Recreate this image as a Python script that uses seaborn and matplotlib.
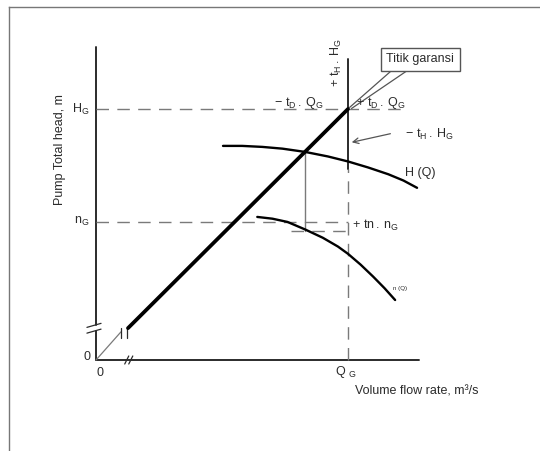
import numpy as np
import matplotlib
matplotlib.use("Agg")
import matplotlib.pyplot as plt
import seaborn as sns

# diagram values, in % of the guarantee point (Q_G = 100, H_G = 100)
Q_G, H_G, N_G = 100.0, 100.0, 55.0
Q_MAX, H_MAX = 128.2, 124.7

# system (pipe) line, drawn straight through the guarantee point
sys_q = [12.7, 100.0]
sys_h = [12.7, 100.0]

# pump head curve H(Q)
hq_q = [50.4, 58, 66, 74, 83, 92, 100, 108, 116, 122, 127.4]
hq_h = [85.3, 85.3, 84.9, 84.2, 82.9, 81.1, 79.1, 76.7, 74.0, 71.5, 68.6]

# speed curve n(Q)
nq_q = [64, 70, 76, 83, 90, 96, 100, 105, 110, 114.5, 118.7]
nq_h = [57.0, 56.3, 55.0, 52.0, 48.7, 45.2, 42.3, 38.0, 33.2, 28.6, 23.9]

# operating point and tolerances
q_op, h_op, n_op = 82.9, 82.9, 51.4
tol_h_top, tol_h_bot = 119.9, 76.1
dash_h_end = 122.6

sns.set_style("white")
plt.rcParams["font.family"] = ["Liberation Sans", "DejaVu Sans"]
plt.rcParams["mathtext.fontset"] = "custom"
plt.rcParams["mathtext.rm"] = "Liberation Sans"

# pixel mapping of the sketch (origin at px 96,360)
sx, sy = 2.52, 2.51
W, H = 540, 451
fig = plt.figure(figsize=(W / 100, H / 100), dpi=100)
ax = fig.add_axes([9 / W, 0, 531 / W, 444 / H])
ax.set_xlim((9 - 96) / sx, (540 - 96) / sx)
ax.set_ylim((360 - 451) / sy, (360 - 7) / sy)
ax.set_xticks([]); ax.set_yticks([])
for s in ["right", "bottom"]:
    ax.spines[s].set_visible(False)
for s in ["left", "top"]:
    ax.spines[s].set_color("#777777")
    ax.spines[s].set_linewidth(1.0)

ink = "#2b2b2b"
grey = "#7a7a7a"
dash = dict(color=grey, lw=1.0, dashes=(9, 6))

# axes with breaks
ax.plot([0, 0], [0, 11.4], color=ink, lw=1.4)
ax.plot([0, 0], [13.8, H_MAX], color=ink, lw=1.4)
ax.plot([0, Q_MAX], [0, 0], color=ink, lw=1.4)
ax.plot([-3.6, 2.0], [13.0, 14.6], color=ink, lw=0.9)
ax.plot([-3.6, 2.0], [10.7, 12.3], color=ink, lw=0.9)
ax.plot([11.4, 13.0], [-1.6, 1.6], color=ink, lw=0.9)
ax.plot([13.0, 14.6], [-1.6, 1.6], color=ink, lw=0.9)

# thin line from origin to system line start, with break ticks
ax.plot([0, 9.9], [0, 11.2], color=grey, lw=0.9)
ax.plot([9.9, 9.9], [8.8, 12.7], color=ink, lw=0.9)
ax.plot([12.3, 12.3], [8.8, 13.1], color=ink, lw=0.9)

# guide lines
ax.plot([0, dash_h_end], [H_G, H_G], **dash)
ax.plot([0, Q_G], [N_G, N_G], **dash)
ax.plot([77.4, Q_G], [n_op, n_op], **dash)
ax.plot([Q_G, Q_G], [0, tol_h_bot], **dash)
ax.plot([Q_G, Q_G], [tol_h_bot, tol_h_top], color=ink, lw=1.4)
ax.plot([q_op, q_op], [n_op, h_op], color=grey, lw=1.0)

# curves
sns.lineplot(x=sys_q, y=sys_h, ax=ax, color="black", lw=2.7)
sns.lineplot(x=hq_q, y=hq_h, ax=ax, color="black", lw=1.7, sort=False)
sns.lineplot(x=nq_q, y=nq_h, ax=ax, color="black", lw=1.7, sort=False)

# callout for "Titik garansi"
ax.plot([117.5, 100.6], [115.5, 100.6], color="#555555", lw=0.9)
ax.plot([123.8, 101.4], [115.5, 100.2], color="#555555", lw=0.9)
ax.text(128.6, 119.8, "Titik garansi", fontsize=9, color=ink,
        ha="center", va="center",
        bbox=dict(boxstyle="square,pad=0.45", fc="white", ec="#555555", lw=1.0))
ax.annotate("", xy=(100.4, 86.5), xytext=(117.9, 90.4),
            arrowprops=dict(arrowstyle="->", color="#555555", lw=0.9))

fs = 9
ax.text(-14.3, 83.7, "Pump Total head, m", rotation=90, fontsize=fs,
        color=ink, ha="center", va="center")
ax.text(-2.6, H_G, r"$\mathregular{H_G}$", fontsize=fs, color=ink,
        ha="right", va="center")
ax.text(-2.6, N_G, r"$\mathregular{n_G}$", fontsize=fs, color=ink,
        ha="right", va="center")
ax.text(-2.2, 1.2, "0", fontsize=fs, color=ink, ha="right", va="center")
ax.text(1.6, -5.2, "0", fontsize=fs, color=ink, ha="center", va="center")
ax.text(Q_G - 0.8, -4.8, r"Q $\mathregular{_G}$", fontsize=fs, color=ink,
        ha="center", va="center")
ax.text(102.8, -12.7, "Volume flow rate, m³/s", fontsize=fs, color=ink,
        ha="left", va="center")
ax.text(90.5, 101.3, r"$\mathregular{-\ t_D\,.\,Q_G}$", fontsize=fs,
        color=ink, ha="right", va="baseline")
ax.text(103.2, 101.3, r"$\mathregular{+\ t_D\,.\,Q_G}$", fontsize=fs,
        color=ink, ha="left", va="baseline")
ax.text(95.6, 118.7, r"$\mathregular{+\ t_H\,.\,H_G}$", fontsize=fs,
        color=ink, rotation=90, ha="center", va="center")
ax.text(122.6, 90.0, r"$\mathregular{-\ t_H\,.\,H_G}$", fontsize=fs,
        color=ink, ha="left", va="center")
ax.text(122.6, 74.5, "H (Q)", fontsize=fs, color=ink, ha="left", va="center")
ax.text(101.6, 53.8, r"$\mathregular{+\ tn\,.\,n_G}$", fontsize=fs,
        color=ink, ha="left", va="center")
ax.text(117.9, 28.3, "n (Q)", fontsize=4.5, color=ink, ha="left", va="center")

plt.savefig("out.png", dpi=100)
